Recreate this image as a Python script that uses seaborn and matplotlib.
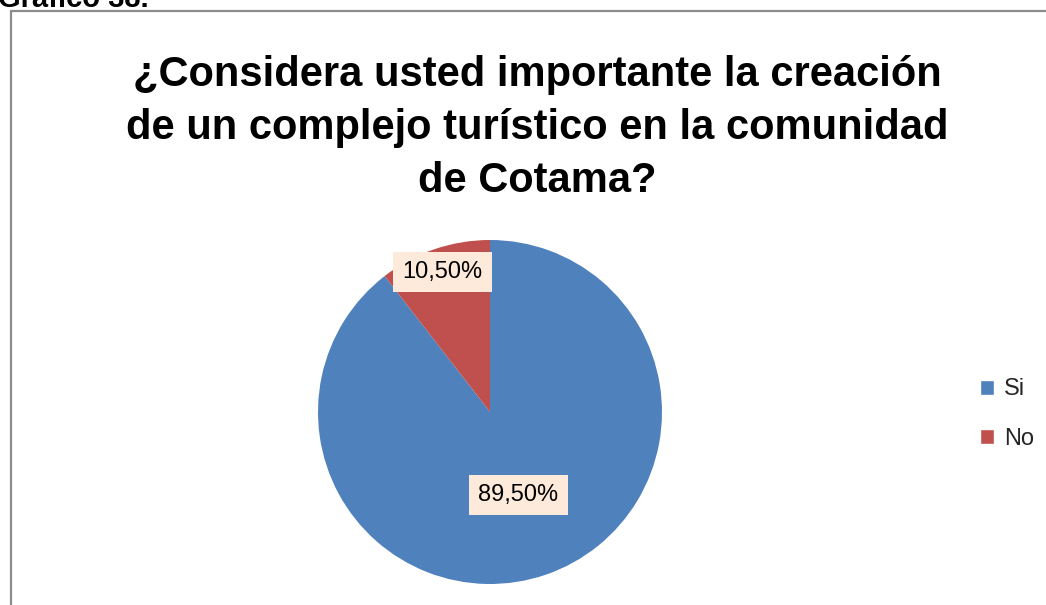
import numpy as np
import matplotlib
matplotlib.use("Agg")
import matplotlib.pyplot as plt
import seaborn as sns
from matplotlib.patches import Rectangle

labels = ["Si", "No"]
shares = [89.5, 10.5]
pct_text = ["89,50%", "10,50%"]
colors = ["#4F81BD", "#C0504D"]

title = "¿Considera usted importante la creación\nde un complejo turístico en la comunidad\nde Cotama?"

sns.set_theme(style="white")
plt.rcParams["font.family"] = ["Liberation Sans", "DejaVu Sans"]

W, H = 1046, 605
fig = plt.figure(figsize=(W / 100, H / 100), dpi=100)

# chart frame, cut off at right and bottom edges
fig.patches.append(Rectangle((11 / W, -0.1), 1.2, 1 - 11 / H + 0.1,
                             transform=fig.transFigure, fill=False,
                             edgecolor="#8c8c8c", linewidth=1.6))
fig.text(-2 / W, 1 - 7 / H, "Gráfico 38.", fontsize=21, fontweight="bold",
         va="baseline", ha="left", color="black")

fig.text(537 / W, 1 - 128 / H, title, fontsize=30, fontweight="bold",
         ha="center", va="center", linespacing=1.42, color="black")

ax = fig.add_axes([318 / W, 21 / H, 344 / W, 344 / H])
wedges, _ = ax.pie(shares, colors=colors, startangle=90, counterclock=False,
                   radius=1, wedgeprops=dict(linewidth=0))
ax.set_xlim(-1, 1)
ax.set_ylim(-1, 1)
ax.set_aspect("equal")
ax.axis("off")

dists = [0.51, 0.86]
for w, txt, d in zip(wedges, pct_text, dists):
    ang = np.deg2rad((w.theta1 + w.theta2) / 2)
    ax.text(d * np.cos(ang), d * np.sin(ang), txt, ha="center", va="center",
            fontsize=17, color="black",
            bbox=dict(boxstyle="square,pad=0.4", facecolor="#FDEADA",
                      edgecolor="none"))

handles = [Rectangle((0, 0), 1, 1, facecolor=c) for c in colors]
fig.legend(handles, labels, loc="center left",
           bbox_to_anchor=(959 / W, 1 - 414 / H), frameon=False,
           fontsize=17, handlelength=0.6, handleheight=0.6,
           handletextpad=0.4, labelspacing=1.15)

fig.savefig("out.png", dpi=100)
